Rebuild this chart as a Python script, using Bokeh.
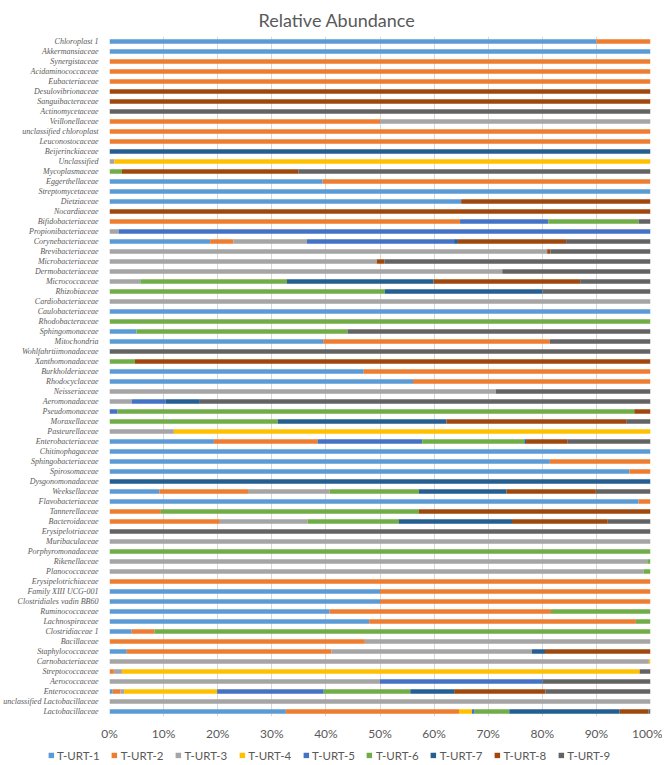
from bokeh.plotting import figure
from bokeh.layouts import column
from bokeh.models import FactorRange, Range1d, Legend, LegendItem, FixedTicker, PrintfTickFormatter
from bokeh.embed import file_html
from bokeh.resources import INLINE

categories = [
    "Chloroplast 1", "Akkermansiaceae", "Synergistaceae", "Acidaminococcaceae", "Eubacteriaceae",
    "Desulovibrionaceae", "Sanguibacteraceae", "Actinomycetaceae", "Veillonellaceae", "unclassified chloroplast",
    "Leuconostocaceae", "Beijerinckiaceae", "Unclassified", "Mycoplasmaceae", "Eggerthellaceae",
    "Streptomycetaceae", "Dietziaceae", "Nocardiaceae", "Bifidobacteriaceae", "Propionibacteriaceae",
    "Corynebacteriaceae", "Brevibacteriaceae", "Microbacteriaceae", "Dermobacteriaceae", "Micrococcaceae",
    "Rhizobiaceae", "Cardiobacteriaceae", "Caulobacteriaceae", "Rhodobacteraceae", "Sphingomonaceae",
    "Mitochondria", "Wohlfahrtiimonadaceae", "Xanthomonadaceae", "Burkholderiaceae", "Rhodocyclaceae",
    "Neisseriaceae", "Aeromonadaceae", "Pseudomonaceae", "Moraxellaceae", "Pasteurellaceae",
    "Enterobacteriaceae", "Chitinophagaceae", "Sphingobacteriaceae", "Spirosomaceae", "Dysgonomonadaceae",
    "Weeksellaceae", "Flavobacteriaceae", "Tannerellaceae", "Bacteroidaceae", "Erysipelotriaceae",
    "Muribaculaceae", "Porphyromonadaceae", "Rikenellaceae", "Planococcaceae", "Erysipelotrichiaceae",
    "Family XIII UCG-001", "Clostridiales vadin BB60", "Ruminococcaceae", "Lachnospiraceae", "Clostridiaceae 1",
    "Bacillaceae", "Staphylococcaceae", "Carnobacteriaceae", "Streptococcaceae", "Aerococcaceae",
    "Enterococcaceae", "unclassified Lactobacillaceae", "Lactobacillaceae",
]

series_names = ["T-URT-1", "T-URT-2", "T-URT-3", "T-URT-4", "T-URT-5",
                "T-URT-6", "T-URT-7", "T-URT-8", "T-URT-9"]

s1 = [90, 100, 0, 0, 0, 0, 0, 0, 0, 0,
      0, 0, 0, 0, 39.4, 100, 65, 0, 0, 0,
      18.6, 0, 0, 0, 0, 0, 0, 100, 0, 5.0,
      39.5, 0, 0, 47.0, 56.1, 0, 0, 0, 0, 0,
      19.3, 100, 81.4, 96.1, 0, 9.2, 97.8, 0, 0, 0,
      0, 0, 0, 0, 0, 50, 50, 40.7, 48.0, 4.1,
      0, 3.2, 0, 0, 0, 0.6, 0, 32.6]
s2 = [10, 0, 100, 100, 100, 0, 0, 0, 50, 100,
      100, 0, 0, 0, 60.6, 0, 0, 0, 64.8, 0,
      4.3, 0, 0, 0, 0, 0, 0, 0, 0, 0,
      41.9, 0, 0, 53.0, 43.9, 0, 0, 0, 0, 0,
      19.2, 0, 18.6, 3.9, 0, 16.4, 2.2, 9.5, 20.4, 0,
      0, 0, 0, 0, 100, 50, 50, 40.9, 49.3, 4.2,
      47.2, 37.8, 0, 0.8, 0, 1.4, 0, 32.0]
s3 = [0, 0, 0, 0, 0, 0, 0, 0, 50, 0,
      0, 0, 0.9, 0, 0, 0, 0, 0, 0, 1.7,
      13.6, 80.9, 49.4, 72.6, 5.7, 0, 100, 0, 0, 0,
      0, 0, 0, 0, 0, 71.4, 4.1, 0, 0, 11.9,
      0, 0, 0, 0, 0, 15.1, 0, 0, 16.2, 0,
      100, 0, 99.4, 98.7, 0, 0, 0, 0, 0, 0,
      52.8, 37.1, 99.7, 1.5, 50, 0.7, 100, 0]
s4 = [0, 0, 0, 0, 0, 0, 0, 0, 0, 0,
      0, 0, 99.1, 0, 0, 0, 0, 0, 0, 0,
      0, 0, 0, 0, 0, 0, 0, 0, 0, 0,
      0, 0, 0, 0, 0, 0, 0, 0, 0, 88.1,
      0, 0, 0, 0, 0, 0, 0, 0, 0, 0,
      0, 0, 0, 0, 0, 0, 0, 0, 0, 0,
      0, 0, 0.3, 95.7, 0, 17.2, 0, 2.4]
s5 = [0, 0, 0, 0, 0, 0, 0, 0, 0, 0,
      0, 0, 0, 0, 0, 0, 0, 0, 16.3, 98.3,
      27.2, 0, 0, 0, 0, 0, 0, 0, 0, 0,
      0, 0, 0, 0, 0, 0, 6.3, 1.5, 0, 0,
      19.3, 0, 0, 0, 0, 0, 0, 0, 0, 0,
      0, 0, 0, 0, 0, 0, 0, 0, 0, 0,
      0, 0, 0, 0, 30, 19.7, 0, 0.5]
s6 = [0, 0, 0, 0, 0, 0, 0, 0, 0, 0,
      0, 0, 0, 2.3, 0, 0, 0, 0, 16.7, 0,
      0, 0, 0, 0, 27.1, 50.9, 0, 0, 100, 39.0,
      0, 0, 4.7, 0, 0, 0, 0, 95.5, 31.1, 0,
      18.9, 0, 0, 0, 0, 16.5, 0, 47.7, 16.9, 0,
      0, 100, 0.6, 1.3, 0, 0, 0, 18.4, 2.7, 91.7,
      0, 0, 0, 0, 0, 16.0, 0, 6.4]
s7 = [0, 0, 0, 0, 0, 0, 0, 0, 0, 0,
      0, 100, 0, 0, 0, 0, 0, 0, 0, 0,
      0.7, 0, 0, 0, 27.1, 29.1, 0, 0, 0, 0,
      0, 0, 0, 0, 0, 0, 6.3, 0, 31.2, 0,
      0.3, 0, 0, 0, 100, 16.2, 0, 0, 20.9, 0,
      0, 0, 0, 0, 0, 0, 0, 0, 0, 0,
      0, 2.4, 0, 0, 0, 8.1, 0, 20.4]
s8 = [0, 0, 0, 0, 0, 100, 100, 0, 0, 0,
      0, 0, 0, 32.6, 0, 0, 35, 100, 0, 0,
      20.0, 0.6, 1.4, 0, 27.1, 0, 0, 0, 0, 0,
      0, 0, 95.3, 0, 0, 0, 0, 3.0, 33.2, 0,
      7.7, 0, 0, 0, 0, 16.5, 0, 42.8, 17.7, 0,
      0, 0, 0, 0, 0, 0, 0, 0, 0, 0,
      0, 19.5, 0, 0, 0, 16.9, 0, 5.3]
s9 = [0, 0, 0, 0, 0, 0, 0, 100, 0, 0,
      0, 0, 0, 65.1, 0, 0, 0, 0, 2.2, 0,
      15.6, 18.5, 49.2, 27.4, 13.0, 20.0, 0, 0, 0, 56.0,
      18.6, 100, 0, 0, 0, 28.6, 83.3, 0, 4.5, 0,
      15.3, 0, 0, 0, 0, 10.1, 0, 0, 7.9, 100,
      0, 0, 0, 0, 0, 0, 0, 0, 0, 0,
      0, 0, 0, 2.0, 20, 19.4, 0, 0.4]

x_ticks = [0, 10, 20, 30, 40, 50, 60, 70, 80, 90, 100]

colors = ["#5B9BD5", "#ED7D31", "#A5A5A5", "#FFC000", "#4472C4",
          "#70AD47", "#255E91", "#9E480E", "#636363"]

source = dict(cat=categories)
keys = []
for name, vals in zip(series_names, [s1, s2, s3, s4, s5, s6, s7, s8, s9]):
    source[name] = vals
    keys.append(name)

p = figure(y_range=FactorRange(factors=categories[::-1]), x_range=Range1d(0, 100),
           frame_width=541, frame_height=680, output_backend="svg", toolbar_location=None,
           min_border_left=100, min_border_right=12, min_border_top=0, min_border_bottom=0)
p.frame_align = False

rs = p.hbar_stack(keys, y="cat", height=0.45, color=colors, source=source, line_width=0)

p.title.text = "Relative Abundance"
p.title.align = "left"
p.title.offset = 149
p.title.text_font = "Lato"
p.title.text_font_size = "18px"
p.title.text_font_style = "normal"
p.title.text_color = "#595959"
p.title.standoff = 12

p.outline_line_color = None
p.ygrid.grid_line_color = None
p.xgrid.grid_line_color = "#D9D9D9"
p.xgrid.ticker = FixedTicker(ticks=x_ticks)

p.xaxis.ticker = FixedTicker(ticks=x_ticks)
p.xaxis.formatter = PrintfTickFormatter(format="%d%%")
p.xaxis.axis_line_color = None
p.xaxis.major_tick_line_color = None
p.xaxis.minor_tick_line_color = None
p.xaxis.major_label_text_font = "Lato"
p.xaxis.major_label_text_font_size = "12px"
p.xaxis.major_label_text_color = "#595959"
p.xaxis.major_label_standoff = 3

p.yaxis.axis_line_color = None
p.yaxis.major_tick_line_color = None
p.yaxis.minor_tick_line_color = None
p.yaxis.major_label_text_font = "Liberation Serif"
p.yaxis.major_label_text_font_style = "italic"
p.yaxis.major_label_text_font_size = "8px"
p.yaxis.major_label_text_color = "#595959"
p.yaxis.major_label_standoff = 5

# legend strip below the chart: the same series on a range that shows none of
# the categories, so only the legend itself is visible
leg = figure(width=657, height=23, x_range=Range1d(0, 100),
             y_range=FactorRange(factors=["legend"]),
             output_backend="svg", toolbar_location=None,
             x_axis_location=None, y_axis_location=None, min_border=0)
leg.frame_align = False
leg.outline_line_color = None
leg.xgrid.visible = False
leg.ygrid.visible = False
lrs = leg.hbar_stack(keys, y="cat", height=0.45, color=colors, source=source, line_width=0)
items = [LegendItem(label=n, renderers=[r]) for n, r in zip(series_names, lrs)]
legend = Legend(items=items, orientation="horizontal", location="center",
                label_text_font="Lato", label_text_font_size="11.5px", label_text_color="#595959",
                glyph_width=7, glyph_height=7, spacing=11, label_standoff=3,
                border_line_color=None, background_fill_alpha=0, padding=0, margin=0)
leg.add_layout(legend, "center")

layout = column(p, leg, spacing=0)
open("out.html", "w").write(file_html(layout, INLINE))
